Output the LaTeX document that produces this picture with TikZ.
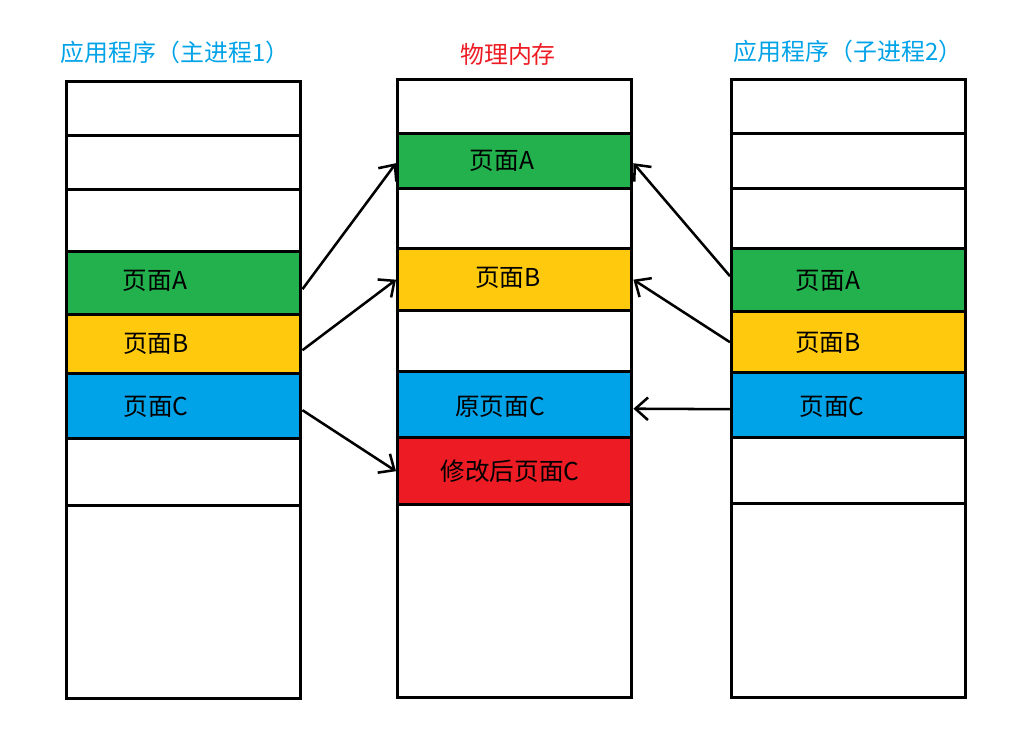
\documentclass[tikz,border=0pt]{standalone}
\usepackage{fontspec}
\setmainfont{Noto Sans CJK SC}
\usetikzlibrary{arrows.meta}
\definecolor{pgreen}{RGB}{34,177,76}
\definecolor{pyellow}{RGB}{255,201,14}
\definecolor{pblue}{RGB}{0,162,232}
\definecolor{pred}{RGB}{237,28,36}
\tikzset{
    cell/.style={draw, line width=2.4pt, minimum width=5.85cm, inner sep=0pt, anchor=north west},
    pagetext/.style={font=\fontsize{17.5}{20}\selectfont},
    coltitle/.style={font=\fontsize{17}{20}\selectfont},
    ptr/.style={-{Straight Barb[length=9pt,width=16pt]}, line width=1.8pt}
}
\begin{document}
\begin{tikzpicture}[x=0.025cm, y=-0.025cm]
    \useasboundingbox (0,0) rectangle (1024,748);
    % main process
    \node[coltitle, text=pblue] (ttl) at (175,52) {应用程序（主进程1）};
    \node[cell, minimum height=1.35cm] (l0) at (65,80) {};
    \node[cell, minimum height=1.35cm] (l1) at (65,134) {};
    \node[cell, minimum height=1.55cm] (l2) at (65,188) {};
    \node[cell, fill=pgreen, minimum height=1.575cm] (lA) at (65,250) {};
    \node[cell, fill=pyellow, minimum height=1.475cm] (lB) at (65,313) {};
    \node[cell, fill=pblue, minimum height=1.625cm] (lC) at (65,372) {};
    \node[cell, minimum height=1.675cm] (l6) at (65,437) {};
    \node[cell, minimum height=4.825cm] (l7) at (65,504) {};
    \node[pagetext] at (155,281) {页面A};
    \node[pagetext] at (156,344) {页面B};
    \node[pagetext] at (156,407) {页面C};
    % physical memory
    \node[coltitle, text=pred] (ttm) at (508,54) {物理内存};
    \node[cell, minimum height=1.35cm] (m0) at (396,78) {};
    \node[cell, fill=pgreen, minimum height=1.375cm] (mA) at (396,132) {};
    \node[cell, minimum height=1.5cm] (m2) at (396,187) {};
    \node[cell, fill=pyellow, minimum height=1.55cm] (mB) at (396,247) {};
    \node[cell, minimum height=1.525cm] (m4) at (396,309) {};
    \node[cell, fill=pblue, minimum height=1.65cm] (mC) at (396,370) {};
    \node[cell, fill=pred, minimum height=1.675cm] (mD) at (396,436) {};
    \node[cell, minimum height=4.825cm] (m7) at (396,503) {};
    \node[pagetext] at (502,161) {页面A};
    \node[pagetext] at (508,278) {页面B};
    \node[pagetext] at (500,407) {原页面C};
    \node[pagetext] at (510,471) {修改后页面C};
    % child process
    \node[coltitle, text=pblue] (ttr) at (848,51) {应用程序（子进程2）};
    \node[cell, minimum height=1.35cm] (r0) at (730,78) {};
    \node[cell, minimum height=1.375cm] (r1) at (730,132) {};
    \node[cell, minimum height=1.5cm] (r2) at (730,187) {};
    \node[cell, fill=pgreen, minimum height=1.575cm] (rA) at (730,247) {};
    \node[cell, fill=pyellow, minimum height=1.525cm] (rB) at (730,310) {};
    \node[cell, fill=pblue, minimum height=1.625cm] (rC) at (730,371) {};
    \node[cell, minimum height=1.65cm] (r6) at (730,436) {};
    \node[cell, minimum height=4.85cm] (r7) at (730,502) {};
    \node[pagetext] at (828,281) {页面A};
    \node[pagetext] at (828,343) {页面B};
    \node[pagetext] at (832,407) {页面C};
    % mappings
    \draw[ptr] ([yshift=-0.15cm]lA.east) -- ([yshift=-0.05cm]mA.west);
    \draw[ptr] ([yshift=-0.15cm]lB.east) -- (mB.west);
    \draw[ptr] ([yshift=-0.1cm]lC.east) -- (mD.west);
    \draw[ptr] ([yshift=0.1cm]rA.west) -- ([yshift=-0.05cm]mA.east);
    \draw[ptr] (rB.west) -- (mB.east);
    \draw[ptr] ([yshift=-0.1cm]rC.west) -- ([yshift=-0.1cm]mC.east);
\end{tikzpicture}
\end{document}
